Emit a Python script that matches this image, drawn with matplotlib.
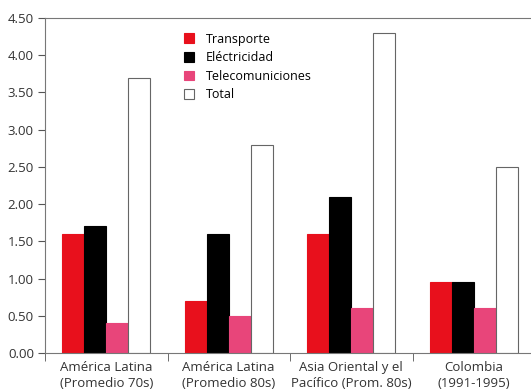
import matplotlib
matplotlib.use('Agg')
import matplotlib.pyplot as plt
import numpy as np

# data
categories = ['América Latina\n(Promedio 70s)', 'América Latina\n(Promedio 80s)',
              'Asia Oriental y el\nPacífico (Prom. 80s)', 'Colombia\n(1991-1995)']
transporte = [1.6, 0.7, 1.6, 0.95]
electricidad = [1.7, 1.6, 2.1, 0.95]
telecom = [0.4, 0.5, 0.6, 0.6]
total = [3.7, 2.8, 4.3, 2.5]
series_names = ['Transporte', 'Eléctricidad', 'Telecomuniciones', 'Total']
yticks = [0.0, 0.5, 1.0, 1.5, 2.0, 2.5, 3.0, 3.5, 4.0, 4.5]

plt.rcParams['font.family'] = ['Open Sans', 'DejaVu Sans']

fig = plt.figure(figsize=(5.31, 3.92), dpi=100)
ax = fig.add_axes([45 / 531, 39 / 392, 490 / 531, 335 / 392])

x = np.arange(len(categories)) + 0.5
w = 0.18
series = [transporte, electricidad, telecom, total]
faces = ['#e8101c', '#000000', '#e8457a', 'white']
edges = ['#e8101c', '#000000', '#e8457a', '#666666']
for i, (vals, fc, ec, name) in enumerate(zip(series, faces, edges, series_names)):
    ax.bar(x + (i - 1.5) * w, vals, w, color=fc, edgecolor=ec, linewidth=0.8, label=name)

ax.set_xlim(0, 4)
ax.set_ylim(0, 4.5)
ax.set_yticks(yticks)
ax.set_yticklabels([f'{v:.2f}' for v in yticks], fontsize=9.5, color='#333333')
ax.set_xticks(x)
ax.set_xticklabels(categories, fontsize=9.5, color='#333333', linespacing=1.25)
ax.set_xticks([0, 1, 2, 3], minor=True)
ax.tick_params(axis='x', which='major', length=0, pad=6)
ax.tick_params(axis='x', which='minor', length=6, color='#555555')
ax.tick_params(axis='y', length=5, color='#555555', pad=3)

for s in ['left', 'bottom', 'top']:
    ax.spines[s].set_color('#777777')
    ax.spines[s].set_linewidth(0.8)
ax.spines['right'].set_visible(False)

ax.legend(loc='upper left', bbox_to_anchor=(0.26, 0.99), frameon=False, fontsize=9,
          handlelength=0.8, handleheight=0.8, handletextpad=1.0, labelspacing=0.45)

fig.savefig('out.png', dpi=100)
